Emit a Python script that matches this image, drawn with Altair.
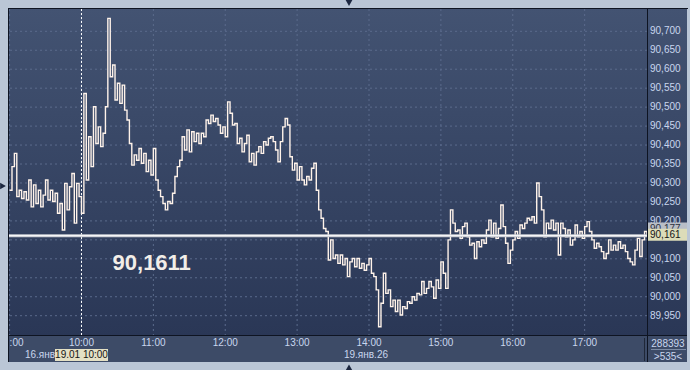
import altair as alt
import pandas as pd

# ---------------- data ----------------
prices = [
    90.281, 90.343, 90.378, 90.264, 90.281, 90.259, 90.277, 90.255, 90.308, 90.237,
    90.295, 90.246, 90.281, 90.237, 90.268, 90.308, 90.255, 90.281, 90.251, 90.273,
    90.220, 90.246, 90.176, 90.299, 90.229, 90.290, 90.325, 90.194, 90.299, 90.264,
    90.220, 90.536, 90.308, 90.422, 90.343, 90.501, 90.404, 90.448, 90.396, 90.431,
    90.501, 90.734, 90.580, 90.611, 90.519, 90.563, 90.510, 90.558, 90.492, 90.466,
    90.404, 90.347, 90.374, 90.360, 90.391, 90.352, 90.378, 90.330, 90.360, 90.321,
    90.391, 90.308, 90.281, 90.264, 90.246, 90.229, 90.251,
    90.246, 90.273, 90.317, 90.343, 90.360, 90.422, 90.387, 90.440, 90.382, 90.435,
    90.409, 90.431, 90.404, 90.431, 90.422, 90.466, 90.457, 90.479, 90.462, 90.470,
    90.453, 90.431, 90.448, 90.422, 90.514, 90.484, 90.453, 90.457, 90.404, 90.418,
    90.382, 90.404, 90.426, 90.356, 90.378, 90.347, 90.382, 90.396, 90.378, 90.409,
    90.400, 90.418, 90.422, 90.409, 90.387, 90.356, 90.409, 90.448, 90.470, 90.453,
    90.369, 90.334, 90.352, 90.308, 90.343, 90.308, 90.295, 90.317, 90.308, 90.339,
    90.352, 90.281, 90.229, 90.207, 90.180, 90.172, 90.097,
    90.150, 90.101, 90.110, 90.088, 90.110, 90.084, 90.101, 90.053, 90.092, 90.101,
    90.079, 90.101, 90.075, 90.088, 90.070, 90.084, 90.101, 90.062, 90.053, 90.018,
    89.921, 89.983, 90.062, 90.009, 90.018, 89.974, 89.991, 89.961, 89.991, 89.952,
    89.974, 89.969, 89.987, 89.983, 90.000, 89.991, 90.009, 90.005, 90.040, 90.009,
    90.022, 90.040, 90.026, 89.996, 90.044, 90.022, 90.092, 90.062, 90.022, 90.150,
    90.229, 90.194, 90.172, 90.176, 90.154, 90.185, 90.194, 90.158, 90.136, 90.141,
    90.101, 90.145, 90.132, 90.150, 90.141, 90.176, 90.202,
    90.158, 90.194, 90.154, 90.180, 90.242, 90.185, 90.141, 90.088, 90.123, 90.150,
    90.172, 90.154, 90.189, 90.180, 90.194, 90.207, 90.202, 90.211, 90.194, 90.300,
    90.264, 90.229, 90.158, 90.194, 90.180, 90.202, 90.176, 90.194, 90.110, 90.194,
    90.180, 90.158, 90.176, 90.136, 90.150, 90.189, 90.158, 90.172, 90.154, 90.185,
    90.198, 90.172, 90.150, 90.128, 90.141, 90.132, 90.119, 90.101, 90.114, 90.150,
    90.123, 90.136, 90.123, 90.145, 90.128, 90.136, 90.119, 90.101, 90.092, 90.084,
    90.123, 90.154, 90.106, 90.150, 90.172, 90.161,
]
minutes = [2 * i for i in range(len(prices))]          # minutes after 9:00

hour_ticks = [0, 60, 120, 180, 240, 300, 360, 420, 480]
hour_labels = ["9:00", "10:00", "11:00", "12:00", "13:00", "14:00", "15:00", "16:00", "17:00"]
y_ticks = [89.95, 90.00, 90.05, 90.10, 90.15, 90.20, 90.25, 90.30, 90.35,
           90.40, 90.45, 90.50, 90.55, 90.60, 90.65, 90.70]
day_break = [60]
last_price = [90.161]
ask_price = [90.177]
big_text = "90,1611"
date_prev = "16.янв"
date_cursor = "19.01 10:00"
date_main = "19.янв.26"
volume_text = "288393"
count_text = ">535<"

# ---------------- styling ----------------
FONT = "Liberation Sans"
LABEL = "#c9d6ee"
GRID = "#5b6b8c"
FRAME = "#bac6d6"
BORDER = "#0e1422"

xs = alt.Scale(domain=[-0.5, 532.05], nice=False, zero=False)
ys = alt.Scale(domain=[89.8991, 90.7588], nice=False, zero=False)

one = pd.DataFrame({"a": [0]})


def drect(x, x2, y, y2, fill):
    return alt.Chart(one).mark_rect(fill=fill).encode(
        x=alt.value(x), x2=alt.value(x2), y=alt.value(y), y2=alt.value(y2))


def dline(x, x2, y, y2, color, width=1):
    return alt.Chart(one).mark_rule(color=color, strokeWidth=width).encode(
        x=alt.value(x), x2=alt.value(x2), y=alt.value(y), y2=alt.value(y2))


def dtext(txt, x, y, **kw):
    return alt.Chart(pd.DataFrame({"t": [txt]})).mark_text(font=FONT, **kw).encode(
        x=alt.value(x), y=alt.value(y), text="t:N")


grad = alt.LinearGradient(
    gradient="linear",
    stops=[alt.GradientStop(color="#435372", offset=0),
           alt.GradientStop(color="#2a3756", offset=1)],
    x1=0, x2=0, y1=0, y2=1)

bg_main = alt.Chart(one).mark_rect(fill=grad).encode(
    x=alt.value(-1), x2=alt.value(678), y=alt.value(-1), y2=alt.value(326))
bg_bottom = drect(-1, 678, 326, 353, "#3d4b67")

hgrid = alt.Chart(pd.DataFrame({"v": y_ticks})).mark_rule(
    color=GRID, strokeDash=[2, 3], strokeWidth=1).encode(
    y=alt.Y("v:Q", scale=ys, axis=None))
vgrid = alt.Chart(pd.DataFrame({"m": hour_ticks})).mark_rule(
    color=GRID, strokeDash=[2, 3], strokeWidth=1).encode(
    x=alt.X("m:Q", scale=xs, axis=None))
daybreak = alt.Chart(pd.DataFrame({"m": day_break})).mark_rule(
    color="#ffffff", strokeDash=[2, 2], strokeWidth=1).encode(
    x=alt.X("m:Q", scale=xs, axis=None))

line = alt.Chart(pd.DataFrame({"minute": minutes, "price": prices})).mark_line(
    color="#fff3ea", strokeWidth=1.4, interpolate="step-after").encode(
    x=alt.X("minute:Q", scale=xs, axis=None),
    y=alt.Y("price:Q", scale=ys, axis=None))

lp = pd.DataFrame({"p": last_price})
cur_wide = alt.Chart(lp).mark_rule(color="#c9ccd3", strokeWidth=3).encode(
    y=alt.Y("p:Q", scale=ys, axis=None))
cur_thin = alt.Chart(lp).mark_rule(color="#ffffff", strokeWidth=1).encode(
    y=alt.Y("p:Q", scale=ys, axis=None))

big = dtext(big_text, 142.7, 253.5, fontSize=22, fontWeight="bold",
            color="#f2eee8", align="center", baseline="middle")

ylabels = alt.Chart(pd.DataFrame({"v": y_ticks})).transform_calculate(
    lbl="replace(format(datum.v, '.3f'), '.', ',')").transform_filter(
    f"abs(datum.v - {last_price[0]}) > 0.02").mark_text(
    font=FONT, fontSize=10, color=LABEL, align="left", baseline="middle").encode(
    x=alt.value(641), y=alt.Y("v:Q", scale=ys, axis=None), text="lbl:N")

xlabels = alt.Chart(pd.DataFrame({"m": hour_ticks[1:], "lbl": hour_labels[1:]})).mark_text(
    font=FONT, fontSize=10, color=LABEL, align="center", baseline="middle").encode(
    x=alt.X("m:Q", scale=xs, axis=None), y=alt.value(334), text="lbl:N")
xfirst = alt.Chart(pd.DataFrame({"m": hour_ticks[:1], "lbl": hour_labels[:1]})).transform_calculate(
    vis="substring(datum.lbl, indexof(datum.lbl, ':'))").mark_text(
    font=FONT, fontSize=10, color=LABEL, align="left", baseline="middle").encode(
    x=alt.X("m:Q", scale=xs, axis=None), y=alt.value(334), text="vis:N")

t_prev = dtext(date_prev, 31, 345.7, fontSize=10, color=LABEL, align="center", baseline="middle")
cursor_box = drect(46, 99, 340, 352, "#e4e0c4")
t_cursor = dtext(date_cursor, 72.5, 346, fontSize=10, color="#141414", align="center", baseline="middle")
t_main = dtext(date_main, 357, 345.7, fontSize=10, color=LABEL, align="center", baseline="middle")

ap = pd.DataFrame({"p": ask_price})
ask_box = alt.Chart(ap).mark_rect(fill="#b9bec6", yOffset=-7, y2Offset=5).encode(
    x=alt.value(639), x2=alt.value(678),
    y=alt.Y("p:Q", scale=ys, axis=None), y2=alt.Y2("p"))
ask_txt = alt.Chart(ap).transform_calculate(
    lbl="replace(format(datum.p, '.3f'), '.', ',')").mark_text(
    font=FONT, fontSize=10, color="#2a3040", align="left", baseline="middle", dy=-1).encode(
    x=alt.value(641), y=alt.Y("p:Q", scale=ys, axis=None), text="lbl:N")
last_box = alt.Chart(lp).mark_rect(fill="#dcdcb9", yOffset=-7, y2Offset=5).encode(
    x=alt.value(639), x2=alt.value(678),
    y=alt.Y("p:Q", scale=ys, axis=None), y2=alt.Y2("p"))
last_txt = alt.Chart(lp).transform_calculate(
    lbl="replace(format(datum.p, '.3f'), '.', ',')").mark_text(
    font=FONT, fontSize=10, color="#151515", align="left", baseline="middle", dy=-1).encode(
    x=alt.value(641), y=alt.Y("p:Q", scale=ys, axis=None), text="lbl:N")

borders = [
    dline(-1, 679, -0.5, -0.5, BORDER),
    dline(-0.5, -0.5, -1, 353, BORDER),
    dline(-1, 678, 326.5, 326.5, BORDER),
    dline(638.5, 638.5, -1, 353, BORDER),
    dline(635.5, 635.5, 329, 352, "#1f2738"),
    dline(642, 677, 340.5, 340.5, "#7d8ca6"),
]

t_vol = dtext(volume_text, 659, 335, fontSize=10, color=LABEL, align="center", baseline="middle")
t_cnt = dtext(count_text, 659, 347.5, fontSize=10, color=LABEL, align="center", baseline="middle")


def tri(shape, x, y):
    return alt.Chart(one).mark_point(shape=shape, filled=True, size=45, color="#1c2740", opacity=1).encode(
        x=alt.value(x), y=alt.value(y))


tris = [tri("triangle-down", 340, -6), tri("triangle-up", 340, 358.5), tri("triangle-right", -6, 177)]

chart = alt.layer(
    bg_main, bg_bottom, hgrid, vgrid, daybreak, line, cur_wide, cur_thin, big,
    ylabels, xlabels, xfirst, t_prev, cursor_box, t_cursor, t_main,
    ask_box, ask_txt, last_box, last_txt, *borders, t_vol, t_cnt, *tris
).properties(
    width=638, height=326,
    padding={"left": 9, "top": 9, "right": 43, "bottom": 35},
    autosize=alt.AutoSizeParams(type="none"),
    background=FRAME,
).configure_view(strokeWidth=0)

chart.save("out.html", embed_options={"renderer": "svg", "actions": False})
